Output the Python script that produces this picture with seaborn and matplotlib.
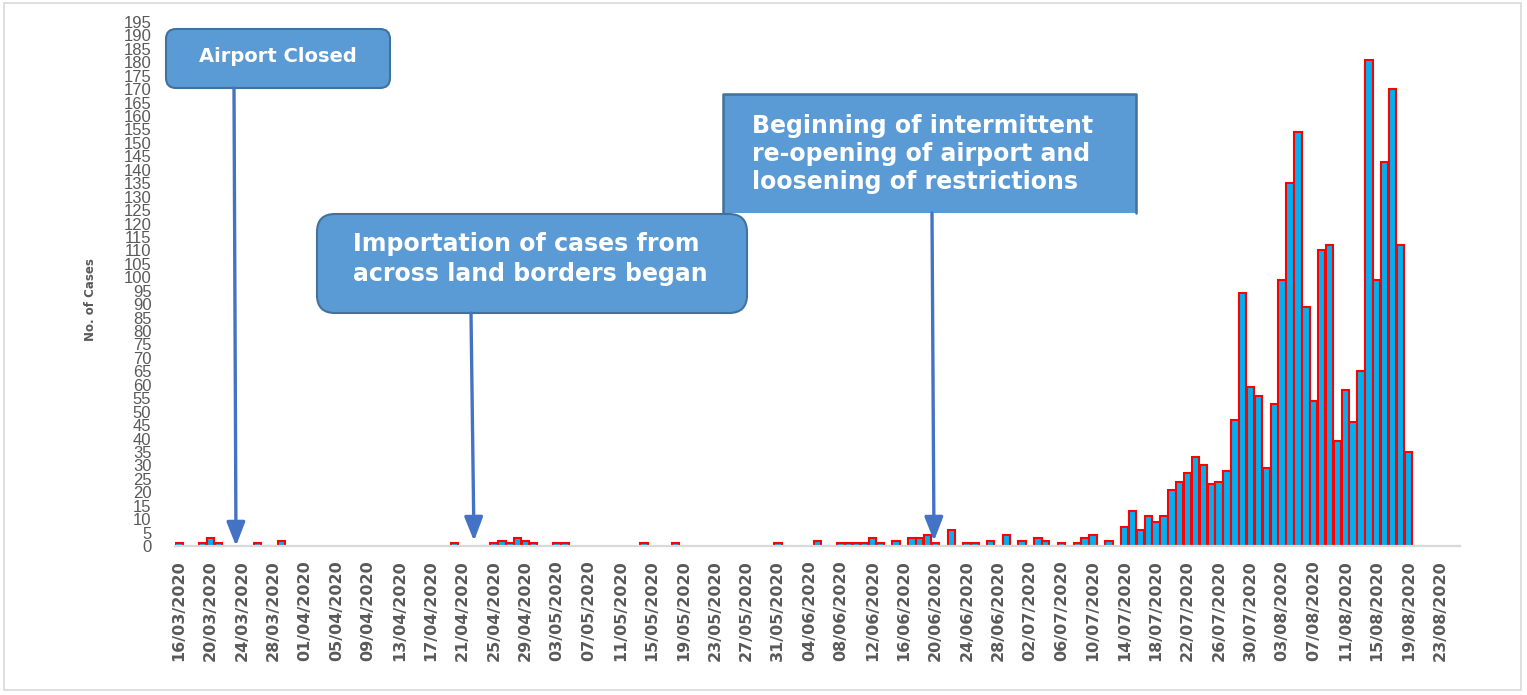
import numpy as np
import pandas as pd
import matplotlib
matplotlib.use("Agg")
import matplotlib.pyplot as plt
from matplotlib.patches import FancyBboxPatch, Rectangle, FancyArrowPatch
from matplotlib.lines import Line2D
from matplotlib.transforms import Affine2D
import seaborn as sns

# ── data ─────────────────────────────────────────────────────
dates = pd.date_range("2020-03-16", "2020-08-25", freq="D")
date_labels = [d.strftime("%d/%m/%Y") for d in dates]

daily_cases = [
    1, 0, 0, 1, 3, 1, 0, 0, 0, 0,            # 16/03 - 25/03
    1, 0, 0, 2, 0, 0, 0, 0, 0, 0,            # 26/03 - 04/04
    0, 0, 0, 0, 0, 0, 0, 0, 0, 0,            # 05/04 - 14/04
    0, 0, 0, 0, 0, 1, 0, 0, 0, 0,            # 15/04 - 24/04
    1, 2, 1, 3, 2, 1, 0, 0, 1, 1,            # 25/04 - 04/05
    0, 0, 0, 0, 0, 0, 0, 0, 0, 1,            # 05/05 - 14/05
    0, 0, 0, 1, 0, 0, 0, 0, 0, 0,            # 15/05 - 24/05
    0, 0, 0, 0, 0, 0, 1, 0, 0, 0,            # 25/05 - 03/06
    0, 2, 0, 0, 1, 1, 1, 1, 3, 1,            # 04/06 - 13/06
    0, 2, 0, 3, 3, 4, 1, 0, 6, 0,            # 14/06 - 23/06
    1, 1, 0, 2, 0, 4, 0, 2, 0, 3,            # 24/06 - 03/07
    2, 0, 1, 0, 1, 3, 4, 0, 2, 0,            # 04/07 - 13/07
    7, 13, 6, 11, 9, 11, 21, 24, 27, 33,     # 14/07 - 23/07
    30, 23, 24, 28, 47, 94, 59, 56, 29, 53,  # 24/07 - 02/08
    99, 135, 154, 89, 54, 110, 112, 39, 58, 46,  # 03/08 - 12/08
    65, 181, 99, 143, 170, 112, 35, 0, 0, 0,     # 13/08 - 22/08
    0, 0, 0,                                      # 23/08 - 25/08
]

y_ticks = list(range(0, 200, 5))

notes = [
    "Airport Closed",
    "Importation of cases from\nacross land borders began",
    "Beginning of intermittent\nre-opening of airport and\nloosening of restrictions",
]

df = pd.DataFrame({"date": date_labels, "cases": daily_cases})

# ── figure ───────────────────────────────────────────────────
W, H, DPI = 1527, 695, 100
sns.set_style("white")
plt.rcParams["font.family"] = ["DejaVu Sans"]

fig = plt.figure(figsize=(W / DPI, H / DPI), dpi=DPI)
ax = fig.add_axes([175 / W, 1 - 546 / H, 1284.5 / W, 524 / H])

# pixel coords with origin at top-left
px = Affine2D().scale(1, -1).translate(0, H).scale(1 / DPI) + fig.dpi_scale_trans

sns.barplot(data=df[df["cases"] > 0], x="date", y="cases", order=date_labels,
            color="#00B0F0", saturation=1, edgecolor="#FF0000",
            linewidth=1.5, width=0.94, ax=ax, zorder=2)

ax.set_xlim(-0.5, len(date_labels) - 0.5)
ax.set_ylim(0, 195)
ax.set_yticks(y_ticks)
ax.set_yticklabels([str(t) for t in y_ticks], fontsize=12,
                   color="#595959", family="Liberation Sans")
ax.set_xticks(range(0, len(date_labels), 4))
ax.set_xticklabels(date_labels[::4], rotation=90, fontsize=11.5,
                   fontweight="bold", color="#595959")
ax.tick_params(axis="y", length=0, pad=17)
ax.tick_params(axis="x", length=0, pad=10)
ax.set_xlabel("")
ax.set_ylabel("No. of Cases", fontsize=8.5, fontweight="bold", color="#595959")
ax.yaxis.set_label_coords(-0.0607, 0.47)
for s in ["top", "right", "left"]:
    ax.spines[s].set_visible(False)
ax.spines["bottom"].set_color("#D9D9D9")
ax.spines["bottom"].set_linewidth(1.6)
ax.grid(False)

# ── annotation boxes ─────────────────────────────────────────
BOX = "#5B9BD5"
EDGE = "#41719C"
ARROW = "#4472C4"

# box 3 (clipped at bottom, square corners)
fig.add_artist(Rectangle((723, 94), 413, 119, transform=px,
                         facecolor=BOX, edgecolor="none", zorder=3))
fig.add_artist(Line2D([723, 723, 1136, 1136], [213, 94, 94, 213],
                      transform=px, color=EDGE, lw=1.8, zorder=3))
fig.text(752, 154, notes[2], transform=px, ha="left", va="center",
         fontsize=17, fontweight="bold", color="white", linespacing=1.22,
         zorder=4)

# box 1
fig.add_artist(FancyBboxPatch((166, 29), 224, 59, transform=px,
                              boxstyle="round,pad=0,rounding_size=10",
                              facecolor=BOX, edgecolor=EDGE, lw=1.5, zorder=3))
fig.text(278, 57, notes[0], transform=px, ha="center", va="center",
         fontsize=14, fontweight="bold", color="white", zorder=4)

# box 2
fig.add_artist(FancyBboxPatch((317, 214), 430, 99, transform=px,
                              boxstyle="round,pad=0,rounding_size=18",
                              facecolor=BOX, edgecolor=EDGE, lw=1.5, zorder=5))
fig.text(353, 259, notes[1], transform=px, ha="left", va="center",
         fontsize=17, fontweight="bold", color="white", linespacing=1.3,
         zorder=6)

# arrows
for tail, tip in [((234, 88), (236, 546)),
                  ((471, 313), (474, 541)),
                  ((932, 213), (934, 541))]:
    fig.add_artist(FancyArrowPatch(tail, tip, transform=px,
                                   arrowstyle="-|>,head_length=0.9,head_width=0.35",
                                   mutation_scale=16, color=ARROW, lw=2.4,
                                   shrinkA=0, shrinkB=0, zorder=7))

# outer frame
fig.add_artist(Rectangle((4, 3), 1517, 687, transform=px, fill=False,
                         edgecolor="#D9D9D9", lw=1.2, zorder=0))

plt.savefig("out.png", dpi=DPI)
plt.close()
